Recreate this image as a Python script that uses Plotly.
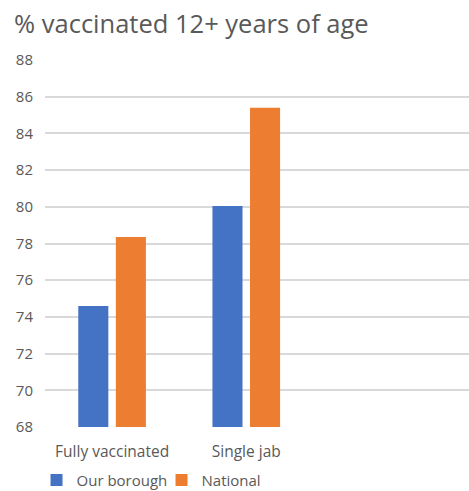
import plotly.graph_objects as go

categories = ["Fully vaccinated", "Single jab"]
our_borough = [74.6, 80.05]
national = [78.35, 85.4]
series_names = ["Our borough", "National"]
y_ticks = list(range(68, 90, 2))

FONT = "Open Sans"
fig = go.Figure()
fig.add_trace(go.Bar(x=categories, y=our_borough, name=series_names[0],
                     marker=dict(color="#4472C4", line=dict(width=0))))
fig.add_trace(go.Bar(x=categories, y=national, name=series_names[1],
                     marker=dict(color="#ED7D31", line=dict(width=0))))

fig.update_layout(
    width=469, height=491,
    margin=dict(l=45, r=0, t=60, b=64, autoexpand=False),
    paper_bgcolor="white", plot_bgcolor="white",
    barmode="group", bargap=0.44, bargroupgap=0.2,
    title=dict(text="% vaccinated 12+ years of age", x=0.03, xanchor="left",
               y=0.95, yanchor="middle",
               font=dict(family=FONT, size=25.5, color="#595959")),
    font=dict(family=FONT, color="#595959"),
    xaxis=dict(type="category", range=[-0.5, 2.66], showgrid=False,
               showline=False, ticks="", tickfont=dict(size=15.5, color="#595959"),
               ticklabelstandoff=13, fixedrange=True, automargin=False),
    yaxis=dict(range=[68, 88], tickvals=y_ticks, showgrid=True,
               gridcolor="#d9d9d9", gridwidth=1.5, zeroline=False,
               showline=False, ticks="", tickfont=dict(size=15, color="#595959"),
               ticklabelstandoff=11, fixedrange=True, automargin=False),
    legend=dict(orientation="h", x=-0.02, xanchor="left", y=-0.1, yanchor="top",
                font=dict(size=15, color="#595959"), traceorder="normal",
                entrywidth=80, itemsizing="constant"),
    showlegend=True,
)
fig.write_html("out.html", config={"displayModeBar": False},
               post_script="document.body.style.margin='0';")
